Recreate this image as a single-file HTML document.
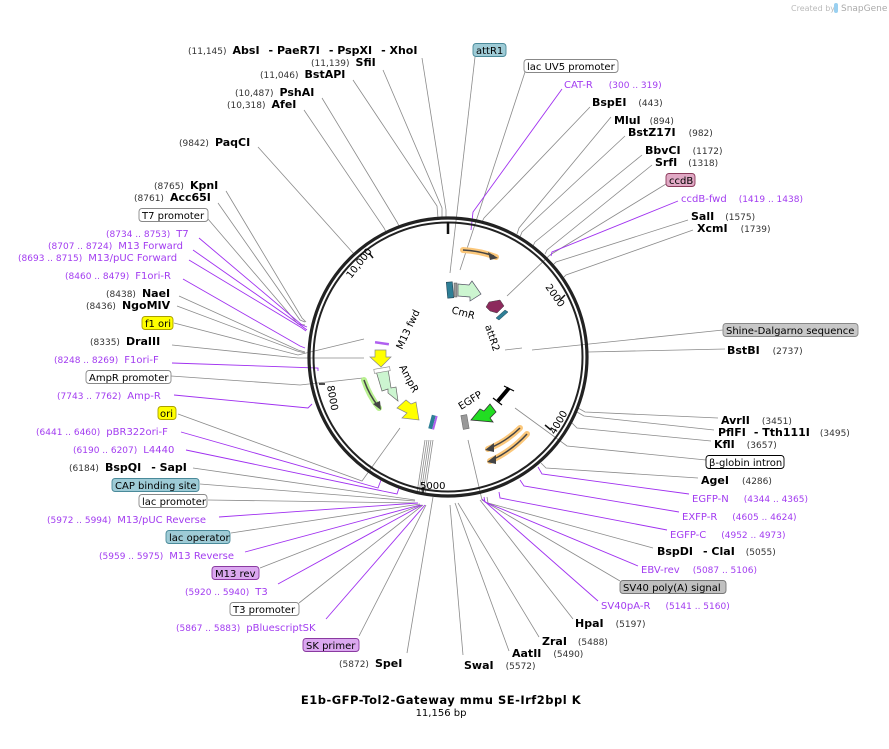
<!DOCTYPE html>
<html><head><meta charset="utf-8"><style>
html,body{margin:0;padding:0;background:#fff}
svg{display:block}
text{font-family:"DejaVu Sans","Liberation Sans",sans-serif}
.n{font-size:9px;fill:#333}
.b{font-size:11px;font-weight:bold;fill:#000}
.p{font-size:10px;fill:#a23cf0}
.pn{font-size:9px;fill:#a23cf0}
.f{font-size:10px;fill:#000}
.g{stroke:#8a8a8a;stroke-width:0.8;fill:none}
.pl{stroke:#a030f0;stroke-width:0.9;fill:none}
</style></head><body>
<svg width="889" height="749" viewBox="0 0 889 749" xmlns="http://www.w3.org/2000/svg">
<text x="791" y="11" style="font-size:8px;fill:#bbb">Created by</text>
<rect x="834" y="3" width="4" height="10" rx="2" fill="#9ad0f0"/>
<text x="841" y="11" style="font-size:9px;fill:#aaa">SnapGene</text>

<g class="g">
<polyline points="422,58 446,210 446,218"/>
<polyline points="383,70 442,208 442,218"/>
<polyline points="353,80 437,206 438,218"/>
<polyline points="322,98 397,222 399,226"/>
<polyline points="304,110 384,228 386,232"/>
<polyline points="258,147 354,254"/>
<polyline points="226,191 302,318 306,322"/>
<polyline points="218,203 300,320 305,322"/>
<polyline points="208,219 298,324 305,325"/>
<polyline points="179,296 298,350 305,352"/>
<polyline points="177,306 297,351 305,353"/>
<polyline points="174,323 298,355 364,339"/>
<polyline points="172,345 298,358 364,358"/>
<polyline points="171,376 300,385 363,378"/>
<polyline points="178,414 362,481 400,428"/>
<polyline points="193,468 415,500"/>
<polyline points="200,484 415,501"/>
<polyline points="208,500 417,503"/>
<polyline points="231,533 420,504"/>
<polyline points="260,568 421,505"/>
<polyline points="299,603 423,505"/>
<polyline points="359,636 426,505"/>
<polyline points="407,653 433,497"/>
<polyline points="417,493 425,440"/><polyline points="419,493 427,440"/><polyline points="421,493 429,440"/><polyline points="423,493 431,440"/><polyline points="425,493 433,440"/>
<polyline points="475,57 450,273"/>
<polyline points="525,72 460,270"/>
<polyline points="590,107 484,218 482,222"/>
<polyline points="611,117 519,228 517,234"/>
<polyline points="625,136 522,232 520,237"/>
<polyline points="642,155 535,242 533,246"/>
<polyline points="652,165 547,250 545,254"/>
<polyline points="666,184 550,255 507,296"/>
<polyline points="688,220 556,262 553,265"/>
<polyline points="693,230 566,275 563,278"/>
<polyline points="723,330 532,350"/>
<line x1="505" y1="350" x2="522" y2="348"/>
<polyline points="725,349 588,352"/>
<polyline points="718,418 585,412 578,408"/>
<polyline points="714,430 584,416 577,412"/>
<polyline points="711,441 577,428 572,423"/>
<polyline points="706,460 567,446 515,408"/>
<polyline points="698,478 546,468 541,463"/>
<polyline points="653,548 488,503 487,497"/>
<polyline points="620,581 482,500 468,440"/>
<polyline points="573,619 480,500"/>
<polyline points="539,637 458,503"/>
<polyline points="509,651 455,503"/>
<polyline points="463,655 450,505"/>
</g>
<g class="pl">
<polyline points="199,238 302,325 307,327"/>
<polyline points="193,250 303,327 307,330"/>
<polyline points="189,260 302,328 306,331"/>
<polyline points="183,279 300,346 305,348"/>
<polyline points="172,363 318,368 318,371"/>
<polyline points="174,395 308,408 312,404"/>
<polyline points="181,432 378,488 381,480"/>
<polyline points="186,450 397,494 399,488"/>
<polyline points="219,517 418,503"/>
<polyline points="245,552 420,505"/>
<polyline points="278,584 422,505"/>
<polyline points="326,619 425,505"/>
<polyline points="562,89 473,212 471,230"/>
<polyline points="678,201 552,252 551,256"/>
<polyline points="689,494 542,474 538,467"/>
<polyline points="679,512 524,486 520,480"/>
<polyline points="667,530 500,498 499,492"/>
<polyline points="638,566 485,502 484,497"/>
<polyline points="598,601 482,499"/>
</g>

<circle cx="448" cy="357" r="139" fill="none" stroke="#222" stroke-width="3.2"/>
<circle cx="448" cy="357" r="134.5" fill="none" stroke="#222" stroke-width="2"/>
<line x1="448" y1="222" x2="448" y2="234" stroke="#111" stroke-width="2.5"/>
<g stroke="#111" stroke-width="1.5">
<line x1="565" y1="295" x2="560" y2="300"/>
<line x1="551" y1="430" x2="545" y2="425"/>
<line x1="319" y1="384" x2="325" y2="384"/>
<line x1="369" y1="253" x2="373" y2="258"/>
<line x1="423" y1="493" x2="423" y2="487"/>
</g>
<g style="font-size:10px;fill:#000">
<text transform="translate(545,287) rotate(55)">2000</text>
<text transform="translate(555,435) rotate(-60)">4000</text>
<text transform="translate(327,386) rotate(80)">8000</text>
<text transform="translate(351,279) rotate(-52)">10,000</text>
<text x="420" y="489">5000</text>
</g>

<path d="M463,250 A111,111 0 0 1 496,257" fill="none" stroke="#fbc77a" stroke-width="6" stroke-linecap="round"/>
<path d="M463,250 A111,111 0 0 1 494,256" fill="none" stroke="#444" stroke-width="1.5"/>
<polygon points="498,258 488,252 490,260" fill="#444"/>
<path d="M520,428 A99,99 0 0 1 488,449" fill="none" stroke="#fbc77a" stroke-width="6" stroke-linecap="round"/>
<path d="M520,428 A99,99 0 0 1 490,448" fill="none" stroke="#444" stroke-width="1.5"/>
<polygon points="485,450 494,443 494,452" fill="#444"/>
<path d="M527,434 A112,112 0 0 1 490,461" fill="none" stroke="#fbc77a" stroke-width="6" stroke-linecap="round"/>
<path d="M527,434 A112,112 0 0 1 492,460" fill="none" stroke="#444" stroke-width="1.5"/>
<polygon points="487,462 496,455 496,464" fill="#444"/>
<path d="M364,380 A87,87 0 0 0 379,408" fill="none" stroke="#b8f090" stroke-width="6" stroke-linecap="round"/>
<path d="M364,380 A87,87 0 0 0 378,406" fill="none" stroke="#444" stroke-width="1.5"/>
<polygon points="381,410 373,404 380,401" fill="#444"/>

<rect x="447" y="282" width="6" height="16" fill="#2e7f96" stroke="#245" stroke-width="0.6" transform="rotate(-5 450 290)"/>
<rect x="454" y="283" width="3" height="14" fill="#999" stroke="#555" stroke-width="0.5"/>
<polygon points="458,284 469,285 472,281 481,294 470,301 470,297 458,296" fill="#ccf5d0" stroke="#556" stroke-width="0.7"/>
<text transform="translate(451,313) rotate(15)" class="f">CmR</text>
<polygon points="489,302 500,300 504,306 497,313 490,311 486,307" fill="#8c2a5c" stroke="#444" stroke-width="0.5"/>
<polygon points="496,318 505,310 508,312 499,320" fill="#2e7f96" stroke="#245" stroke-width="0.5"/>
<text transform="translate(485,326) rotate(72)" class="f">attR2</text>
<text transform="translate(402,350) rotate(-65)" class="f">M13 fwd</text>
<rect x="375" y="342" width="14" height="2.5" fill="#b060f0" transform="rotate(8 382 343)"/>
<polygon points="375,350 386,350 386,357 391,357 381,367 370,357 375,357" fill="#ffff00" stroke="#888" stroke-width="0.7"/>
<polygon points="376,371 388,369 391,388 396,387 398,401 388,393 388,389 382,391" fill="#ccf5d0" stroke="#666" stroke-width="0.7"/>
<rect x="374" y="368" width="16" height="4" fill="#fff" stroke="#888" stroke-width="0.6" transform="rotate(-10 382 370)"/>
<text transform="translate(399,367) rotate(62)" class="f">AmpR</text>
<polygon points="397,408 406,400 411,404 416,402 419,420 402,418 407,413" fill="#ffff00" stroke="#888" stroke-width="0.7"/>
<rect x="430" y="415" width="4" height="14" fill="#2e7f96" transform="rotate(15 432 422)"/>
<rect x="434" y="415" width="2" height="14" fill="#b060f0" transform="rotate(15 432 422)"/>
<rect x="462" y="415" width="6" height="14" fill="#999" stroke="#666" stroke-width="0.5" transform="rotate(-10 465 422)"/>
<polygon points="471,420 480,409 484,411 490,404 496,412 490,418 493,422" fill="#22dd22" stroke="#333" stroke-width="0.8"/>
<text transform="translate(461,410) rotate(-32)" class="f">EGFP</text>
<line x1="498" y1="401" x2="509" y2="388" stroke="#000" stroke-width="4"/>
<line x1="504" y1="386" x2="514" y2="391" stroke="#000" stroke-width="1.2"/>
<line x1="493" y1="398" x2="502" y2="405" stroke="#000" stroke-width="1.2"/>

<g stroke-width="0.9">
<rect x="139" y="208.5" width="69" height="13" rx="3" fill="#fff" stroke="#888"/>
<rect x="142" y="316.5" width="31" height="13" rx="3" fill="#ffff00" stroke="#aaa000"/>
<rect x="86" y="370.5" width="85" height="13" rx="3" fill="#fff" stroke="#888"/>
<rect x="158" y="406.5" width="18" height="13" rx="3" fill="#ffff00" stroke="#aaa000"/>
<rect x="112" y="478.5" width="87" height="13" rx="3" fill="#9ecbd6" stroke="#4a8a9a"/>
<rect x="139" y="494.5" width="68" height="13" rx="3" fill="#fff" stroke="#888"/>
<rect x="166" y="530.5" width="64" height="13" rx="3" fill="#9ecbd6" stroke="#4a8a9a"/>
<rect x="212" y="566.5" width="47" height="13" rx="3" fill="#dba8f0" stroke="#8a3aa0"/>
<rect x="230" y="602.5" width="69" height="13" rx="3" fill="#fff" stroke="#888"/>
<rect x="303" y="638.5" width="56" height="13" rx="3" fill="#dba8f0" stroke="#8a3aa0"/>
<rect x="473" y="43.5" width="33" height="13" rx="3" fill="#9ecbd6" stroke="#4a8a9a"/>
<rect x="524" y="59.5" width="94" height="13" rx="3" fill="#fff" stroke="#888"/>
<rect x="666" y="173.5" width="29" height="13" rx="3" fill="#e0a8c4" stroke="#8a3a5a"/>
<rect x="723" y="323.5" width="135" height="13" rx="3" fill="#c8c8c8" stroke="#888"/>
<rect x="706" y="455.5" width="78" height="13" rx="3" fill="#fff" stroke="#000"/>
<rect x="620" y="580.5" width="106" height="13" rx="3" fill="#c0c0c0" stroke="#777"/>
</g>
<g class="f">
<text x="142" y="219">T7 promoter</text>
<text x="145" y="327">f1 ori</text>
<text x="89" y="381">AmpR promoter</text>
<text x="160" y="417">ori</text>
<text x="115" y="489">CAP binding site</text>
<text x="142" y="505">lac promoter</text>
<text x="169" y="541">lac operator</text>
<text x="215" y="577">M13 rev</text>
<text x="233" y="613">T3 promoter</text>
<text x="306" y="649">SK primer</text>
<text x="476" y="54">attR1</text>
<text x="527" y="70">lac UV5 promoter</text>
<text x="669" y="184">ccdB</text>
<text x="726" y="334">Shine-Dalgarno sequence</text>
<text x="709" y="466">β-globin intron</text>
<text x="623" y="591">SV40 poly(A) signal</text>
</g>

<text x="188" y="54"><tspan class="n">(11,145)</tspan><tspan class="b" dx="6">AbsI</tspan><tspan class="b" dx="9">- PaeR7I</tspan><tspan class="b" dx="9">- PspXI</tspan><tspan class="b" dx="9">- XhoI</tspan></text>
<text x="311" y="66"><tspan class="n">(11,139)</tspan><tspan class="b" dx="6">SfiI</tspan></text>
<text x="260" y="78"><tspan class="n">(11,046)</tspan><tspan class="b" dx="6">BstAPI</tspan></text>
<text x="235" y="96"><tspan class="n">(10,487)</tspan><tspan class="b" dx="6">PshAI</tspan></text>
<text x="227" y="108"><tspan class="n">(10,318)</tspan><tspan class="b" dx="6">AfeI</tspan></text>
<text x="179" y="146"><tspan class="n">(9842)</tspan><tspan class="b" dx="6">PaqCI</tspan></text>
<text x="154" y="189"><tspan class="n">(8765)</tspan><tspan class="b" dx="6">KpnI</tspan></text>
<text x="134" y="201"><tspan class="n">(8761)</tspan><tspan class="b" dx="6">Acc65I</tspan></text>
<text x="106" y="237"><tspan class="pn">(8734 .. 8753)</tspan><tspan class="p" dx="6">T7</tspan></text>
<text x="48" y="249"><tspan class="pn">(8707 .. 8724)</tspan><tspan class="p" dx="6">M13 Forward</tspan></text>
<text x="18" y="261"><tspan class="pn">(8693 .. 8715)</tspan><tspan class="p" dx="6">M13/pUC Forward</tspan></text>
<text x="65" y="279"><tspan class="pn">(8460 .. 8479)</tspan><tspan class="p" dx="6">F1ori-R</tspan></text>
<text x="106" y="297"><tspan class="n">(8438)</tspan><tspan class="b" dx="6">NaeI</tspan></text>
<text x="86" y="309"><tspan class="n">(8436)</tspan><tspan class="b" dx="6">NgoMIV</tspan></text>
<text x="90" y="345"><tspan class="n">(8335)</tspan><tspan class="b" dx="6">DraIII</tspan></text>
<text x="54" y="363"><tspan class="pn">(8248 .. 8269)</tspan><tspan class="p" dx="6">F1ori-F</tspan></text>
<text x="57" y="399"><tspan class="pn">(7743 .. 7762)</tspan><tspan class="p" dx="6">Amp-R</tspan></text>
<text x="36" y="435"><tspan class="pn">(6441 .. 6460)</tspan><tspan class="p" dx="6">pBR322ori-F</tspan></text>
<text x="73" y="453"><tspan class="pn">(6190 .. 6207)</tspan><tspan class="p" dx="6">L4440</tspan></text>
<text x="69" y="471"><tspan class="n">(6184)</tspan><tspan class="b" dx="6">BspQI</tspan><tspan class="b" dx="10">- SapI</tspan></text>
<text x="47" y="523"><tspan class="pn">(5972 .. 5994)</tspan><tspan class="p" dx="6">M13/pUC Reverse</tspan></text>
<text x="99" y="559"><tspan class="pn">(5959 .. 5975)</tspan><tspan class="p" dx="6">M13 Reverse</tspan></text>
<text x="185" y="595"><tspan class="pn">(5920 .. 5940)</tspan><tspan class="p" dx="6">T3</tspan></text>
<text x="176" y="631"><tspan class="pn">(5867 .. 5883)</tspan><tspan class="p" dx="6">pBluescriptSK</tspan></text>
<text x="339" y="667"><tspan class="n">(5872)</tspan><tspan class="b" dx="6">SpeI</tspan></text>

<text x="564" y="88"><tspan class="p">CAT-R</tspan><tspan class="pn" dx="16">(300 .. 319)</tspan></text>
<text x="592" y="106"><tspan class="b">BspEI</tspan><tspan class="n" dx="12">(443)</tspan></text>
<text x="614" y="124"><tspan class="b">MluI</tspan><tspan class="n" dx="9">(894)</tspan></text>
<text x="628" y="136"><tspan class="b">BstZ17I</tspan><tspan class="n" dx="13">(982)</tspan></text>
<text x="645" y="154"><tspan class="b">BbvCI</tspan><tspan class="n" dx="12">(1172)</tspan></text>
<text x="655" y="166"><tspan class="b">SrfI</tspan><tspan class="n" dx="11">(1318)</tspan></text>
<text x="681" y="202"><tspan class="p">ccdB-fwd</tspan><tspan class="pn" dx="12">(1419 .. 1438)</tspan></text>
<text x="691" y="220"><tspan class="b">SalI</tspan><tspan class="n" dx="11">(1575)</tspan></text>
<text x="697" y="232"><tspan class="b">XcmI</tspan><tspan class="n" dx="13">(1739)</tspan></text>
<text x="727" y="354"><tspan class="b">BstBI</tspan><tspan class="n" dx="13">(2737)</tspan></text>
<text x="721" y="424"><tspan class="b">AvrII</tspan><tspan class="n" dx="12">(3451)</tspan></text>
<text x="718" y="436"><tspan class="b">PflFI</tspan><tspan class="b" dx="8">- Tth111I</tspan><tspan class="n" dx="10">(3495)</tspan></text>
<text x="714" y="448"><tspan class="b">KflI</tspan><tspan class="n" dx="12">(3657)</tspan></text>
<text x="701" y="484"><tspan class="b">AgeI</tspan><tspan class="n" dx="13">(4286)</tspan></text>
<text x="692" y="502"><tspan class="p">EGFP-N</tspan><tspan class="pn" dx="15">(4344 .. 4365)</tspan></text>
<text x="682" y="520"><tspan class="p">EXFP-R</tspan><tspan class="pn" dx="15">(4605 .. 4624)</tspan></text>
<text x="670" y="538"><tspan class="p">EGFP-C</tspan><tspan class="pn" dx="15">(4952 .. 4973)</tspan></text>
<text x="657" y="555"><tspan class="b">BspDI</tspan><tspan class="b" dx="10">- ClaI</tspan><tspan class="n" dx="11">(5055)</tspan></text>
<text x="641" y="573"><tspan class="p">EBV-rev</tspan><tspan class="pn" dx="13">(5087 .. 5106)</tspan></text>
<text x="601" y="609"><tspan class="p">SV40pA-R</tspan><tspan class="pn" dx="15">(5141 .. 5160)</tspan></text>
<text x="575" y="627"><tspan class="b">HpaI</tspan><tspan class="n" dx="12">(5197)</tspan></text>
<text x="542" y="645"><tspan class="b">ZraI</tspan><tspan class="n" dx="11">(5488)</tspan></text>
<text x="512" y="657"><tspan class="b">AatII</tspan><tspan class="n" dx="12">(5490)</tspan></text>
<text x="464" y="669"><tspan class="b">SwaI</tspan><tspan class="n" dx="12">(5572)</tspan></text>

<text x="441" y="704" text-anchor="middle" style="font-size:11.5px;font-weight:bold;letter-spacing:0.5px">E1b-GFP-Tol2-Gateway mmu SE-Irf2bpl K</text>
<text x="441" y="716" text-anchor="middle" style="font-size:10px">11,156 bp</text>
</svg>
</body></html>
